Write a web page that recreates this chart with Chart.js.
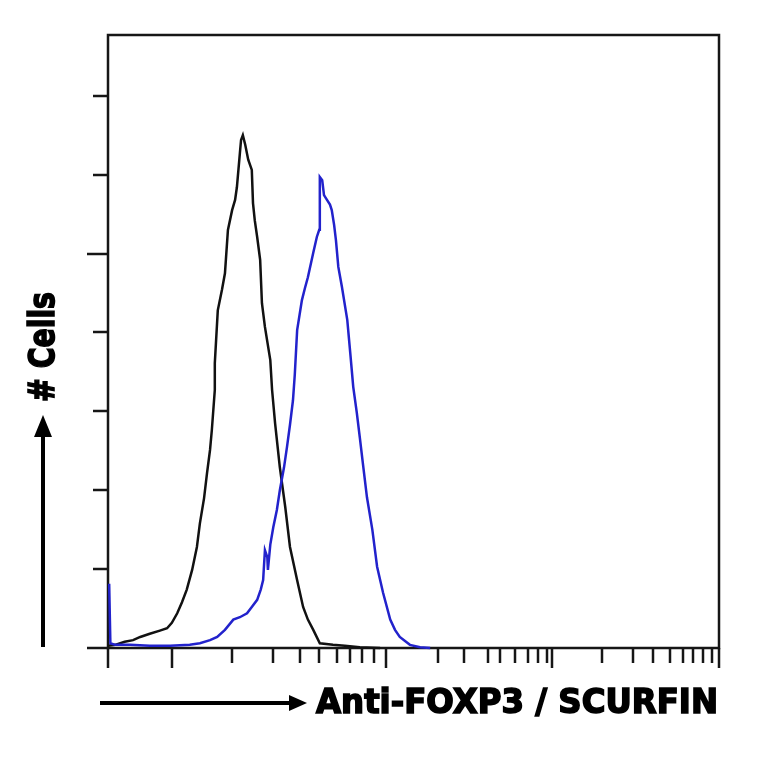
<!DOCTYPE html>
<html>
<head>
<meta charset="utf-8">
<script src="https://cdn.jsdelivr.net/npm/chart.js@4.4.0/dist/chart.umd.min.js"></script>
<style>
  html, body { margin: 0; padding: 0; background: #fff; }
  canvas { display: block; }
</style>
</head>
<body>
<canvas id="grafico" width="764" height="764"></canvas>
<script>
// Control (isotipo) - canal vs numero de celulas
const canalesControl = [0,12,28,42,54,70,87,99,107,116,124,132,141,149,154,161,166,171,174,179,179,184,191,196,201,208,213,216,221,223,226,230,235,241,243,246,250,255,258,263,272,275,280,288,297,305,317,327,335,344,355,377,397,422,456];
const cuentasControl = [3,4,8,10,14,18,22,25,32,44,58,74,99,128,158,190,222,251,276,327,361,428,454,475,530,555,568,584,627,644,650,638,619,606,564,542,521,492,437,407,365,327,285,229,179,128,86,52,36,23,6,4,3,1,0];

// Anti-FOXP3
const canalesFoxp3 = [0,2,4,12,37,70,104,137,154,171,183,196,210,221,233,241,250,256,260,263,267,268,272,277,283,288,295,300,305,310,313,317,325,330,335,344,350,354,355,359,362,367,372,375,379,382,386,392,401,406,411,417,422,427,434,443,451,461,473,481,489,506,523,540];
const cuentasFoxp3 = [80,80,6,4,4,3,3,4,6,10,14,23,36,39,44,52,61,74,86,124,115,99,131,153,175,200,229,255,283,314,346,403,441,456,470,501,521,530,597,593,574,568,562,555,536,517,483,458,416,374,331,298,267,235,191,150,103,70,36,23,14,4,1,0];

// Marcas de los ejes
const ticksX = [0,107,208,277,322,354,384,406,426,446,466,553,597,637,657,682,704,721,736,744,828,880,913,942,964,980,997,1012,1024];
const ticksXLargos = [0,107,466,744,1024];
const ticksY = [0,100,200,300,400,500,600,700];
const ticksYLargos = [0,500];

const tituloX = 'Anti-FOXP3 / SCURFIN';
const tituloY = '# Cells';

function aPuntos(xs, ys) {
    return xs.map((v, i) => ({ x: v, y: ys[i] }));
}

function linea(ctx, x1, y1, x2, y2) {
    ctx.beginPath();
    ctx.moveTo(x1, y1);
    ctx.lineTo(x2, y2);
    ctx.stroke();
}

// texto ajustado a un ancho dado (la fuente original es condensada y muy gruesa)
function textoAjustado(ctx, texto, cx, cy, ancho, angulo) {
    ctx.save();
    ctx.translate(cx, cy);
    ctx.rotate(angulo);
    const w = ctx.measureText(texto).width;
    ctx.scale(ancho / w, 1);
    ctx.lineWidth = 1.6;
    ctx.strokeText(texto, 0, 0);
    ctx.fillText(texto, 0, 0);
    ctx.restore();
}

const marcoPlugin = {
    id: 'marco',
    beforeDatasetsDraw(chart) {
        const { ctx, chartArea: a, scales: { x, y } } = chart;
        ctx.save();
        ctx.strokeStyle = '#161616';
        ctx.lineWidth = 2.5;
        ctx.strokeRect(a.left, a.top, a.right - a.left, a.bottom - a.top);

        ticksX.forEach(v => {
            const px = Math.round(x.getPixelForValue(v));
            const largo = ticksXLargos.includes(v) ? 20 : 15;
            linea(ctx, px, a.bottom, px, a.bottom + largo);
        });
        ticksY.forEach(v => {
            const py = Math.round(y.getPixelForValue(v));
            const largo = ticksYLargos.includes(v) ? 21 : 15;
            linea(ctx, a.left, py, a.left - largo, py);
        });
        ctx.restore();
    },
    afterDraw(chart) {
        const { ctx } = chart;
        ctx.save();
        ctx.strokeStyle = '#000';
        ctx.fillStyle = '#000';
        ctx.lineWidth = 4;

        // flecha horizontal
        linea(ctx, 100, 703, 292, 703);
        ctx.beginPath();
        ctx.moveTo(289, 695);
        ctx.lineTo(307, 703);
        ctx.lineTo(289, 711);
        ctx.closePath();
        ctx.fill();

        // flecha vertical
        linea(ctx, 43, 647, 43, 432);
        ctx.beginPath();
        ctx.moveTo(34, 437);
        ctx.lineTo(43, 415);
        ctx.lineTo(52, 437);
        ctx.closePath();
        ctx.fill();

        ctx.textAlign = 'center';
        ctx.textBaseline = 'middle';
        ctx.font = 'bold 33px "DejaVu Sans"';
        textoAjustado(ctx, tituloX, 517, 704, 402, 0);
        ctx.font = 'bold 36px "DejaVu Sans"';
        textoAjustado(ctx, tituloY, 45, 347, 110, -Math.PI / 2);
        ctx.restore();
    }
};

new Chart(document.getElementById('grafico'), {
    type: 'line',
    data: {
        datasets: [{
            label: 'Control',
            data: aPuntos(canalesControl, cuentasControl),
            borderColor: '#111111',
            borderWidth: 2.5,
            pointRadius: 0,
            tension: 0,
            clip: 4,
            order: 1
        }, {
            label: 'Anti-FOXP3',
            data: aPuntos(canalesFoxp3, cuentasFoxp3),
            borderColor: '#2222cc',
            borderWidth: 2.5,
            pointRadius: 0,
            tension: 0,
            clip: 4,
            order: 0
        }]
    },
    options: {
        responsive: false,
        animation: false,
        layout: {
            padding: { left: 108, right: 45, top: 35, bottom: 116 }
        },
        scales: {
            x: { type: 'linear', min: 0, max: 1024, display: false },
            y: { type: 'linear', min: 0, max: 777, display: false }
        },
        plugins: {
            legend: { display: false },
            tooltip: { enabled: false }
        }
    },
    plugins: [marcoPlugin]
});
</script>
</body>
</html>
